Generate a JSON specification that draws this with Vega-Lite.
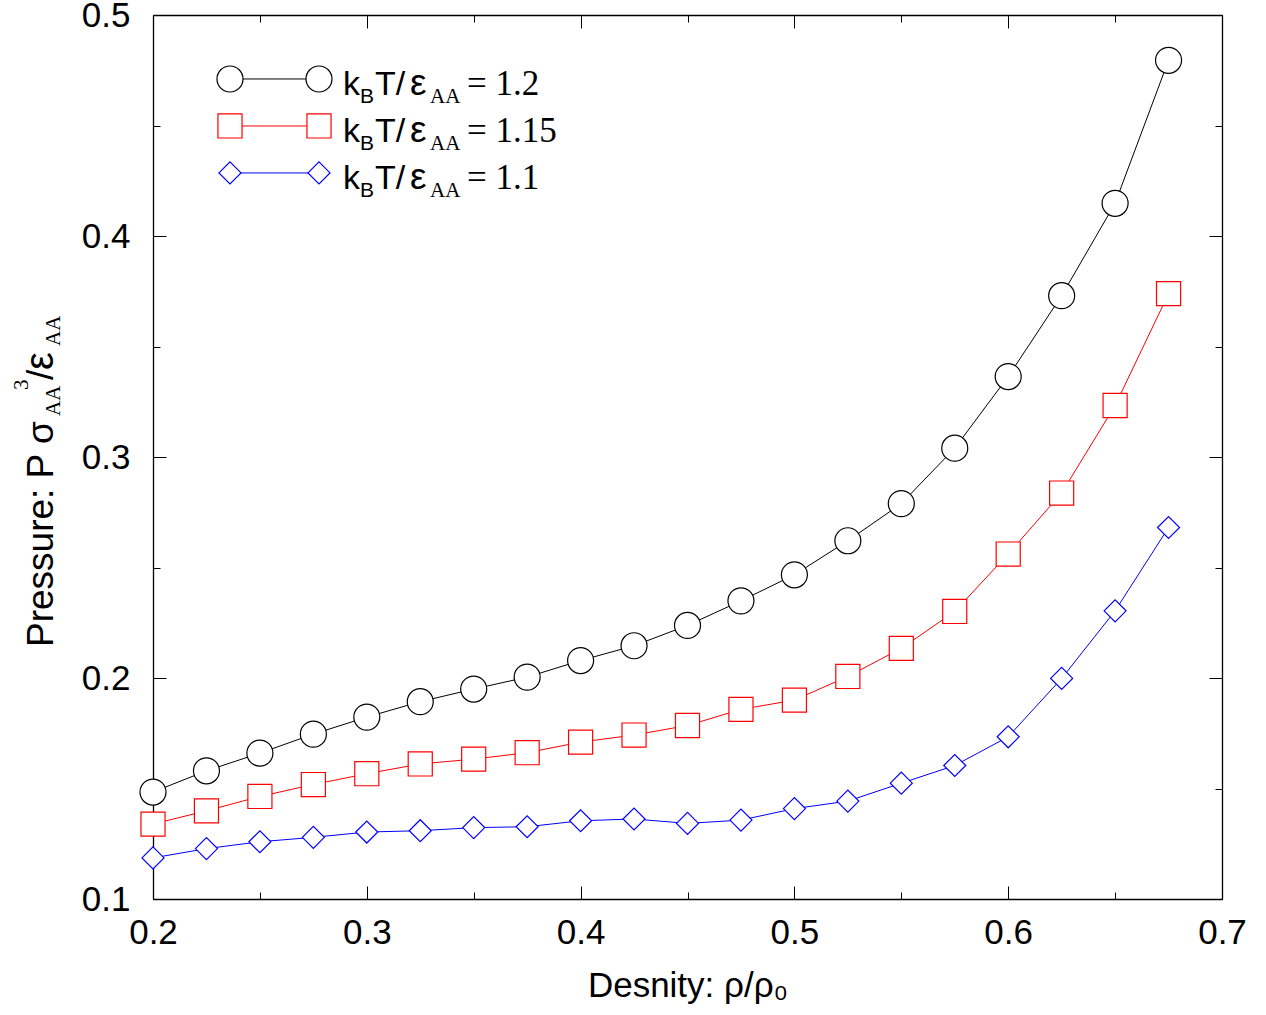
{
  "$schema": "https://vega.github.io/schema/vega-lite/v6.json",
  "width": 1069,
  "height": 884,
  "autosize": {"type": "none"},
  "padding": {"left": 153, "top": 15, "right": 44, "bottom": 116},
  "background": "white",
  "config": {
    "view": {"stroke": null},
    "axis": {
      "labelFont": "Liberation Sans", "labelFontSize": 35, "labelColor": "black",
      "tickColor": "black", "tickWidth": 1, "domainColor": "black", "grid": false,
      "labelFlush": false, "labelOverlap": false, "labelBound": false,
      "titleFont": "Liberation Sans", "titleFontSize": 35, "titleFontWeight": "normal", "titleColor": "black",
      "zindex": 1
    }
  },
  "datasets": {
    "pressure": [
      {"T": "1.2", "rho": 0.2, "P": 0.1484}, {"T": "1.2", "rho": 0.225, "P": 0.1580}, {"T": "1.2", "rho": 0.25, "P": 0.1660}, {"T": "1.2", "rho": 0.275, "P": 0.1746},
      {"T": "1.2", "rho": 0.3, "P": 0.1823}, {"T": "1.2", "rho": 0.325, "P": 0.1893}, {"T": "1.2", "rho": 0.35, "P": 0.1950}, {"T": "1.2", "rho": 0.375, "P": 0.2004},
      {"T": "1.2", "rho": 0.4, "P": 0.2079}, {"T": "1.2", "rho": 0.425, "P": 0.2146}, {"T": "1.2", "rho": 0.45, "P": 0.2238}, {"T": "1.2", "rho": 0.475, "P": 0.2349},
      {"T": "1.2", "rho": 0.5, "P": 0.2467}, {"T": "1.2", "rho": 0.525, "P": 0.2621}, {"T": "1.2", "rho": 0.55, "P": 0.2789}, {"T": "1.2", "rho": 0.575, "P": 0.3040},
      {"T": "1.2", "rho": 0.6, "P": 0.3364}, {"T": "1.2", "rho": 0.625, "P": 0.3730}, {"T": "1.2", "rho": 0.65, "P": 0.4148}, {"T": "1.2", "rho": 0.675, "P": 0.4795},
      {"T": "1.15", "rho": 0.2, "P": 0.1339}, {"T": "1.15", "rho": 0.225, "P": 0.1399}, {"T": "1.15", "rho": 0.25, "P": 0.1464}, {"T": "1.15", "rho": 0.275, "P": 0.1518},
      {"T": "1.15", "rho": 0.3, "P": 0.1567}, {"T": "1.15", "rho": 0.325, "P": 0.1611}, {"T": "1.15", "rho": 0.35, "P": 0.1633}, {"T": "1.15", "rho": 0.375, "P": 0.1662},
      {"T": "1.15", "rho": 0.4, "P": 0.1710}, {"T": "1.15", "rho": 0.425, "P": 0.1742}, {"T": "1.15", "rho": 0.45, "P": 0.1785}, {"T": "1.15", "rho": 0.475, "P": 0.1858},
      {"T": "1.15", "rho": 0.5, "P": 0.1900}, {"T": "1.15", "rho": 0.525, "P": 0.2007}, {"T": "1.15", "rho": 0.55, "P": 0.2134}, {"T": "1.15", "rho": 0.575, "P": 0.2301},
      {"T": "1.15", "rho": 0.6, "P": 0.2561}, {"T": "1.15", "rho": 0.625, "P": 0.2837}, {"T": "1.15", "rho": 0.65, "P": 0.3233}, {"T": "1.15", "rho": 0.675, "P": 0.3739},
      {"T": "1.1", "rho": 0.2, "P": 0.1186}, {"T": "1.1", "rho": 0.225, "P": 0.1228}, {"T": "1.1", "rho": 0.25, "P": 0.1259}, {"T": "1.1", "rho": 0.275, "P": 0.1279},
      {"T": "1.1", "rho": 0.3, "P": 0.1303}, {"T": "1.1", "rho": 0.325, "P": 0.1309}, {"T": "1.1", "rho": 0.35, "P": 0.1323}, {"T": "1.1", "rho": 0.375, "P": 0.1327},
      {"T": "1.1", "rho": 0.4, "P": 0.1354}, {"T": "1.1", "rho": 0.425, "P": 0.1362}, {"T": "1.1", "rho": 0.45, "P": 0.1342}, {"T": "1.1", "rho": 0.475, "P": 0.1357},
      {"T": "1.1", "rho": 0.5, "P": 0.1409}, {"T": "1.1", "rho": 0.525, "P": 0.1443}, {"T": "1.1", "rho": 0.55, "P": 0.1524}, {"T": "1.1", "rho": 0.575, "P": 0.1604},
      {"T": "1.1", "rho": 0.6, "P": 0.1734}, {"T": "1.1", "rho": 0.625, "P": 0.1998}, {"T": "1.1", "rho": 0.65, "P": 0.2304}, {"T": "1.1", "rho": 0.675, "P": 0.2681}
    ],
    "legend": [
      {"T": "1.2", "ly": 0.47105, "lab": "= 1.2"},
      {"T": "1.15", "ly": 0.44979, "lab": "= 1.15"},
      {"T": "1.1", "ly": 0.42853, "lab": "= 1.1"}
    ],
    "one": [{"id": 1}]
  },
  "data": {"name": "pressure"},
  "resolve": {"axis": {"x": "independent", "y": "independent"}},
  "layer": [
    {
      "mark": {"type": "line", "strokeWidth": 1},
      "encoding": {
        "x": {"field": "rho", "type": "quantitative", "scale": {"domain": [0.2, 0.7], "nice": false, "zero": false},
          "axis": {"orient": "bottom", "values": [0.2, 0.3, 0.4, 0.5, 0.6, 0.7], "format": ".1f", "tickSize": -13, "labelPadding": 29,
            "domain": true, "domainWidth": 1.3, "title": "Desnity: ρ/ρ₀", "titlePadding": 18}},
        "y": {"field": "P", "type": "quantitative", "scale": {"domain": [0.1, 0.5], "nice": false, "zero": false},
          "axis": {"orient": "left", "values": [0.1, 0.2, 0.3, 0.4, 0.5], "format": ".1f", "tickSize": -13, "labelPadding": 36,
            "domain": true, "domainWidth": 1.3, "title": null}},
        "stroke": {"field": "T", "type": "nominal", "scale": {"domain": ["1.2", "1.15", "1.1"], "range": ["#000000", "#ff0000", "#0000ff"]}, "legend": null}
      }
    },
    {
      "mark": {"type": "point", "filled": false, "fill": "white", "fillOpacity": 1, "opacity": 1, "strokeWidth": 1.2},
      "encoding": {
        "x": {"field": "rho", "type": "quantitative",
          "axis": {"orient": "bottom", "values": [0.25, 0.35, 0.45, 0.55, 0.65], "tickSize": -7, "labels": false, "domain": false, "title": null}},
        "y": {"field": "P", "type": "quantitative",
          "axis": {"orient": "left", "values": [0.15, 0.25, 0.35, 0.45], "tickSize": -7, "labels": false, "domain": false, "title": null}},
        "stroke": {"field": "T", "type": "nominal", "legend": null},
        "shape": {"field": "T", "type": "nominal", "scale": {"domain": ["1.2", "1.15", "1.1"], "range": ["circle", "square", "diamond"]}, "legend": null},
        "size": {"field": "T", "type": "nominal", "scale": {"domain": ["1.2", "1.15", "1.1"], "range": [676, 484, 625]}, "legend": null}
      }
    },
    {
      "data": {"name": "legend"},
      "mark": {"type": "rule", "strokeWidth": 1},
      "encoding": {
        "x": {"datum": 0.23601, "type": "quantitative",
          "axis": {"orient": "top", "values": [0.2, 0.3, 0.4, 0.5, 0.6, 0.7], "tickSize": -13, "labels": false, "domain": true, "domainWidth": 1.3, "title": null}},
        "x2": {"datum": 0.27764},
        "y": {"field": "ly", "type": "quantitative",
          "axis": {"orient": "right", "values": [0.1, 0.2, 0.3, 0.4, 0.5], "tickSize": -13, "labels": false, "domain": true, "domainWidth": 1.3, "title": null}},
        "stroke": {"field": "T", "type": "nominal", "legend": null}
      }
    },
    {
      "data": {"name": "legend"},
      "mark": {"type": "point", "filled": false, "fill": "white", "fillOpacity": 1, "opacity": 1, "strokeWidth": 1.2},
      "encoding": {
        "x": {"datum": 0.23601, "type": "quantitative",
          "axis": {"orient": "top", "values": [0.25, 0.35, 0.45, 0.55, 0.65], "tickSize": -7, "labels": false, "domain": false, "title": null}},
        "y": {"field": "ly", "type": "quantitative",
          "axis": {"orient": "right", "values": [0.15, 0.25, 0.35, 0.45], "tickSize": -7, "labels": false, "domain": false, "title": null}},
        "stroke": {"field": "T", "type": "nominal", "legend": null},
        "shape": {"field": "T", "type": "nominal", "legend": null},
        "size": {"field": "T", "type": "nominal", "legend": null}
      }
    },
    {
      "data": {"name": "legend"},
      "mark": {"type": "point", "filled": false, "fill": "white", "fillOpacity": 1, "opacity": 1, "strokeWidth": 1.2},
      "encoding": {
        "x": {"datum": 0.27764, "type": "quantitative", "axis": null},
        "y": {"field": "ly", "type": "quantitative", "axis": null},
        "stroke": {"field": "T", "type": "nominal", "legend": null},
        "shape": {"field": "T", "type": "nominal", "legend": null},
        "size": {"field": "T", "type": "nominal", "legend": null}
      }
    },
    {
      "data": {"name": "legend"},
      "mark": {"type": "text", "text": "k", "font": "Liberation Sans", "fontSize": 34, "align": "left", "baseline": "alphabetic", "dx": 0, "dy": 16, "color": "black"},
      "encoding": {"x": {"datum": 0.28887, "type": "quantitative", "axis": null}, "y": {"field": "ly", "type": "quantitative", "axis": null}}
    },
    {
      "data": {"name": "legend"},
      "mark": {"type": "text", "text": "B", "font": "Liberation Sans", "fontSize": 21, "align": "left", "baseline": "alphabetic", "dx": 17, "dy": 24, "color": "black"},
      "encoding": {"x": {"datum": 0.28887, "type": "quantitative", "axis": null}, "y": {"field": "ly", "type": "quantitative", "axis": null}}
    },
    {
      "data": {"name": "legend"},
      "mark": {"type": "text", "text": "T/", "font": "Liberation Sans", "fontSize": 34, "align": "left", "baseline": "alphabetic", "dx": 32, "dy": 16, "color": "black"},
      "encoding": {"x": {"datum": 0.28887, "type": "quantitative", "axis": null}, "y": {"field": "ly", "type": "quantitative", "axis": null}}
    },
    {
      "data": {"name": "legend"},
      "mark": {"type": "text", "text": "ε", "font": "Liberation Sans", "fontSize": 37, "align": "left", "baseline": "alphabetic", "dx": 67, "dy": 16, "color": "black"},
      "encoding": {"x": {"datum": 0.28887, "type": "quantitative", "axis": null}, "y": {"field": "ly", "type": "quantitative", "axis": null}}
    },
    {
      "data": {"name": "legend"},
      "mark": {"type": "text", "text": "AA", "font": "Liberation Serif", "fontSize": 21, "align": "left", "baseline": "alphabetic", "dx": 87, "dy": 24, "color": "black"},
      "encoding": {"x": {"datum": 0.28887, "type": "quantitative", "axis": null}, "y": {"field": "ly", "type": "quantitative", "axis": null}}
    },
    {
      "data": {"name": "legend"},
      "mark": {"type": "text", "font": "Liberation Serif", "fontSize": 35, "align": "left", "baseline": "alphabetic", "dx": 124, "dy": 16, "color": "black"},
      "encoding": {"x": {"datum": 0.28887, "type": "quantitative", "axis": null}, "y": {"field": "ly", "type": "quantitative", "axis": null}, "text": {"field": "lab"}}
    },
    {
      "data": {"name": "one"},
      "mark": {"type": "text", "text": "Pressure: P σ", "font": "Liberation Sans", "fontSize": 37, "angle": 270, "align": "left", "baseline": "alphabetic", "dx": 0, "dy": 0, "color": "black"},
      "encoding": {"x": {"datum": 0.15323, "type": "quantitative", "axis": null}, "y": {"datum": 0.21403, "type": "quantitative", "axis": null}}
    },
    {
      "data": {"name": "one"},
      "mark": {"type": "text", "text": "AA", "font": "Liberation Serif", "fontSize": 21, "angle": 270, "align": "left", "baseline": "alphabetic", "dx": 231, "dy": 7, "color": "black"},
      "encoding": {"x": {"datum": 0.15323, "type": "quantitative", "axis": null}, "y": {"datum": 0.21403, "type": "quantitative", "axis": null}}
    },
    {
      "data": {"name": "one"},
      "mark": {"type": "text", "text": "3", "font": "Liberation Serif", "fontSize": 21, "angle": 270, "align": "left", "baseline": "alphabetic", "dx": 257, "dy": -25, "color": "black"},
      "encoding": {"x": {"datum": 0.15323, "type": "quantitative", "axis": null}, "y": {"datum": 0.21403, "type": "quantitative", "axis": null}}
    },
    {
      "data": {"name": "one"},
      "mark": {"type": "text", "text": "/", "font": "Liberation Sans", "fontSize": 37, "angle": 270, "align": "left", "baseline": "alphabetic", "dx": 267, "dy": 0, "color": "black"},
      "encoding": {"x": {"datum": 0.15323, "type": "quantitative", "axis": null}, "y": {"datum": 0.21403, "type": "quantitative", "axis": null}}
    },
    {
      "data": {"name": "one"},
      "mark": {"type": "text", "text": "ε", "font": "Liberation Sans", "fontSize": 40, "angle": 270, "align": "left", "baseline": "alphabetic", "dx": 277, "dy": 0, "color": "black"},
      "encoding": {"x": {"datum": 0.15323, "type": "quantitative", "axis": null}, "y": {"datum": 0.21403, "type": "quantitative", "axis": null}}
    },
    {
      "data": {"name": "one"},
      "mark": {"type": "text", "text": "AA", "font": "Liberation Serif", "fontSize": 21, "angle": 270, "align": "left", "baseline": "alphabetic", "dx": 301, "dy": 7, "color": "black"},
      "encoding": {"x": {"datum": 0.15323, "type": "quantitative", "axis": null}, "y": {"datum": 0.21403, "type": "quantitative", "axis": null}}
    }
  ]
}
